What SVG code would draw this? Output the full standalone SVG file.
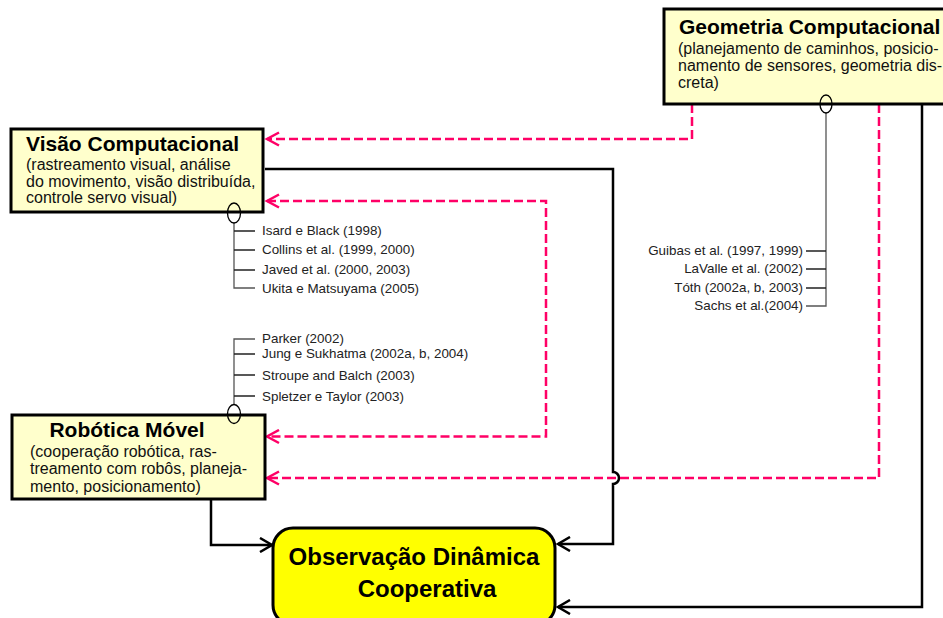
<svg xmlns="http://www.w3.org/2000/svg" width="943" height="618" viewBox="0 0 943 618">
  <style>
    .box { fill: #ffffcc; stroke: #000; stroke-width: 3; }
    .goal { fill: #ffff00; stroke: #000; stroke-width: 3; }
    .title { font-family: "Liberation Sans", Arial, sans-serif; font-weight: bold; font-size: 21px; fill: #000; }
    .sub { font-family: "Liberation Sans", Arial, sans-serif; font-size: 16px; fill: #111; }
    .ref { font-family: "Liberation Sans", Arial, sans-serif; font-size: 13.4px; fill: #222; }
    .goaltext { font-family: "Liberation Sans", Arial, sans-serif; font-weight: bold; font-size: 24px; fill: #000; text-anchor: middle; }
    .solid { fill: none; stroke: #000; stroke-width: 2.5; }
    .dash { fill: none; stroke: #ff0066; stroke-width: 2.5; stroke-dasharray: 9 4; }
    .stem { fill: none; stroke: #555; stroke-width: 1.3; }
    .tick { fill: none; stroke: #222; stroke-width: 1.3; }
    .knob { fill: none; stroke: #000; stroke-width: 1.3; }
  </style>
  <defs>
    <marker id="arrowBlack" markerWidth="16" markerHeight="16" refX="13" refY="8" orient="auto" markerUnits="userSpaceOnUse">
      <path d="M1,1 L13,8 L1,15" fill="none" stroke="#000" stroke-width="2.5"/>
    </marker>
    <marker id="arrowPink" markerWidth="16" markerHeight="16" refX="13" refY="8" orient="auto-start-reverse" markerUnits="userSpaceOnUse">
      <path d="M1,1.5 L13,8 L1,14.5" fill="none" stroke="#ff0066" stroke-width="2.5"/>
    </marker>
  </defs>

  <!-- connectors -->
  <g id="connectors">
    <path class="solid" d="M265,169 H613 V472 A6,6 0 0 1 613,484 V544 H558" marker-end="url(#arrowBlack)"/>
    <path class="solid" d="M211,499 V545 H272" marker-end="url(#arrowBlack)"/>
    <path class="solid" d="M922,104 V607 H558" marker-end="url(#arrowBlack)"/>
    <path class="dash" d="M692,104 V139 H267" marker-end="url(#arrowPink)"/>
    <path class="dash" d="M267,201 H546 V436.5 H267" marker-start="url(#arrowPink)" marker-end="url(#arrowPink)"/>
    <path class="dash" d="M879,104 V478 H267" marker-end="url(#arrowPink)"/>
  </g>

  <!-- nodes -->
  <g id="geometria">
    <rect class="box" x="664" y="9" width="290" height="95"/>
    <text class="title" x="679" y="34">Geometria Computacional</text>
    <text class="sub" x="678" y="54">(planejamento de caminhos, posicio-</text>
    <text class="sub" x="678" y="71">namento de sensores, geometria dis-</text>
    <text class="sub" x="678" y="88">creta)</text>
  </g>

  <g id="visao">
    <rect class="box" x="11" y="129" width="252" height="83"/>
    <text class="title" x="26" y="151">Visão Computacional</text>
    <text class="sub" x="26" y="170">(rastreamento visual, análise</text>
    <text class="sub" x="26" y="187">do movimento, visão distribuída,</text>
    <text class="sub" x="26" y="203">controle servo visual)</text>
  </g>

  <g id="robotica">
    <rect class="box" x="12" y="415" width="253" height="84"/>
    <text class="title" x="127" y="437" text-anchor="middle">Robótica Móvel</text>
    <text class="sub" x="30" y="457">(cooperação robótica, ras-</text>
    <text class="sub" x="30" y="474">treamento com robôs, planeja-</text>
    <text class="sub" x="30" y="492">mento, posicionamento)</text>
  </g>

  <g id="observacao">
    <rect class="goal" x="273" y="528" width="282" height="97" rx="20"/>
    <text class="goaltext" x="414" y="565">Observação Dinâmica</text>
    <text class="goaltext" x="427" y="597">Cooperativa</text>
  </g>

  <!-- reference lists hanging off each node -->
  <g id="refs-visao">
    <path class="stem" d="M234,223 V288 H255"/>
    <path class="tick" d="M234,231 H255 M234,250 H255 M234,270 H255"/>
    <ellipse class="knob" cx="234" cy="213" rx="6.5" ry="10"/>
    <text class="ref" x="262" y="235">Isard e Black (1998)</text>
    <text class="ref" x="262" y="254">Collins et al. (1999, 2000)</text>
    <text class="ref" x="262" y="274">Javed et al. (2000, 2003)</text>
    <text class="ref" x="262" y="293">Ukita e Matsuyama (2005)</text>
  </g>

  <g id="refs-robotica">
    <path class="stem" d="M255,339 H234 V405"/>
    <path class="tick" d="M234,354 H255 M234,375 H255 M234,396 H255"/>
    <ellipse class="knob" cx="234" cy="414" rx="6.5" ry="9.5"/>
    <text class="ref" x="262" y="343">Parker (2002)</text>
    <text class="ref" x="262" y="358">Jung e Sukhatma (2002a, b, 2004)</text>
    <text class="ref" x="262" y="380">Stroupe and Balch (2003)</text>
    <text class="ref" x="262" y="401">Spletzer e Taylor (2003)</text>
  </g>

  <g id="refs-geometria">
    <path class="stem" d="M826,113 V306 H806"/>
    <path class="tick" d="M806,251 H826 M806,269 H826 M806,288 H826"/>
    <ellipse class="knob" cx="826" cy="104" rx="6" ry="9"/>
    <text class="ref" x="803" y="255" text-anchor="end">Guibas et al. (1997, 1999)</text>
    <text class="ref" x="803" y="273" text-anchor="end">LaValle et al. (2002)</text>
    <text class="ref" x="803" y="292" text-anchor="end">Tóth (2002a, b, 2003)</text>
    <text class="ref" x="803" y="310" text-anchor="end">Sachs et al.(2004)</text>
  </g>
</svg>
